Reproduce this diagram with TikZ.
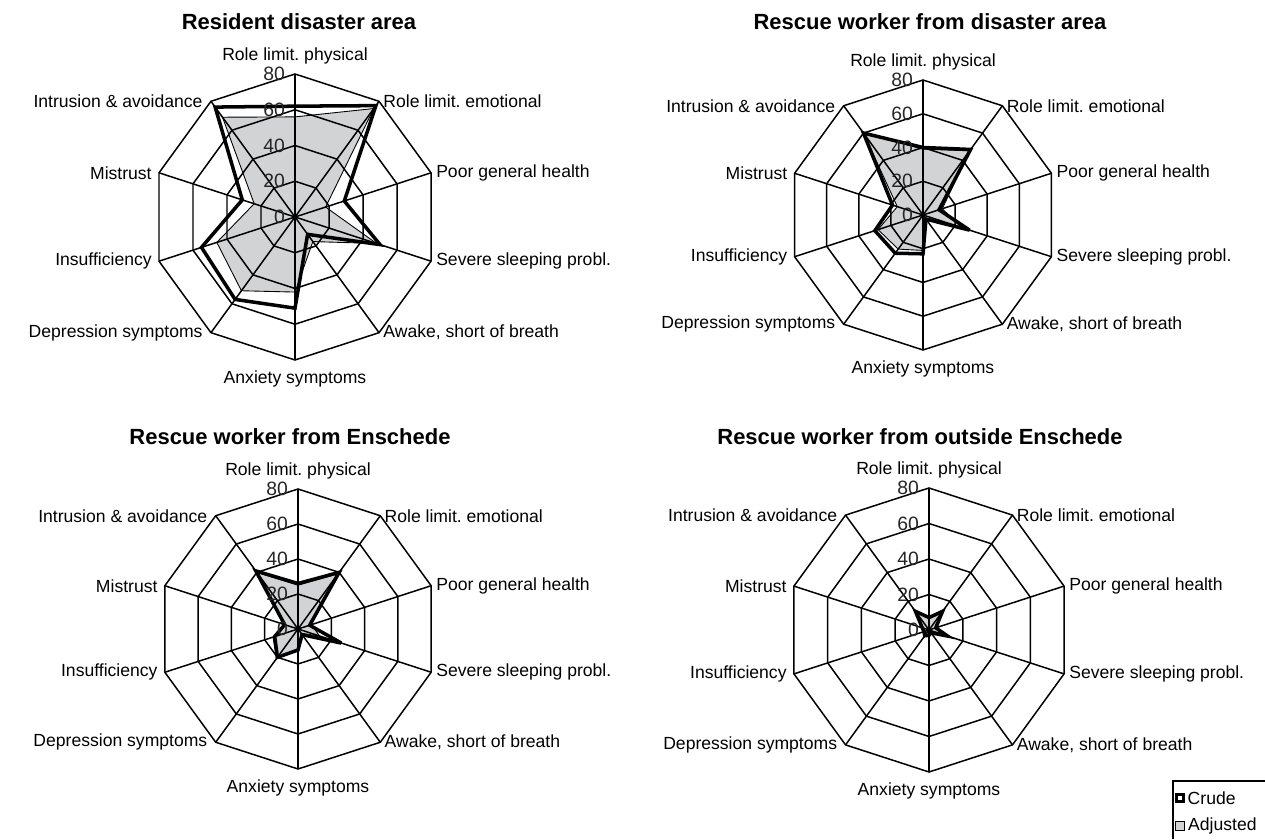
\documentclass[tikz,border=0pt]{standalone}
\usepackage{fontspec}
\setmainfont{Liberation Sans}
\usetikzlibrary{positioning}
\definecolor{adjgray}{RGB}{210,211,213}
\tikzstyle{grid line}=[draw, line width=0.85pt, line join=miter]
\tikzstyle{crude line}=[draw, line width=2pt, line join=miter, miter limit=5]
\tikzstyle{adjusted area}=[fill=adjgray]
\tikzstyle{adjusted line}=[draw, line width=0.5pt, line join=miter]
\tikzstyle{axis label}=[inner sep=0pt, font=\fontsize{10}{12}\selectfont]
\tikzstyle{scale label}=[inner sep=0pt, font=\fontsize{11}{13}\selectfont, text=black!85]
\tikzstyle{chart title}=[inner sep=0pt, font=\fontsize{12.5}{15}\selectfont\bfseries]
\tikzstyle{crude key}=[draw, line width=1.6pt, minimum size=3.8pt, inner sep=0pt]
\tikzstyle{adjusted key}=[draw, fill=adjgray, line width=0.7pt, minimum size=5.2pt, inner sep=0pt]

\begin{document}
\frenchspacing
\begin{tikzpicture}[x=0.02cm, y=0.02cm]
    \useasboundingbox (0,0) rectangle (1265,839);
    % Draw the four radar charts: centre, radius, title position, title, crude and adjusted values
    \foreach \cx/\cy/\rad/\tx/\ty/\ttl/\crude/\adj in {
        295/622/143/299/817/{Resident disaster area}/{62,77,29,50,12,51,57,55,31,76}/{56,75,18,48,17,42,51,46,24,69},
        923/624/135/930/817/{Rescue worker from disaster area}/{40,48,10,29,3,23,28,30,19,60}/{39,47,12,24,2,21,25,28,16,60},
        298/210/140/290/402/{Rescue worker from Enschede}/{26,40,7,26,4,12,20,14,8,41}/{25,39,8,13,3,12,21,15,8,40},
        929/209/142/920/402/{Rescue worker from outside Enschede}/{7,13,4,11,2,3,4,3,4,13}/{7,14,4,7,2,3,3,3,4,13}}
    {
        \begin{scope}[shift={(\cx,\cy)}]
            % First the points of both series
            \foreach \v [count=\i from 0] in \adj
                \coordinate (a\i) at ({90-36*\i}:{\v*\rad/80});
            \foreach \v [count=\i from 0] in \crude
                \coordinate (c\i) at ({90-36*\i}:{\v*\rad/80});
            \coordinate (mid) at (0,0);
            \path[adjusted area] (a0) \foreach \i in {1,...,9}{-- (a\i)} -- cycle;
            % Rings and spokes
            \foreach \lev in {20,40,60,80}
                \draw[grid line] (90:{\lev*\rad/80}) \foreach \k in {1,...,9}{-- ({90-36*\k}:{\lev*\rad/80})} -- cycle;
            \foreach \k in {0,...,9}
                \coordinate (tip\k) at ({90-36*\k}:\rad);
            \foreach \k in {0,...,9}
                \path[grid line] (mid) -- (tip\k);
            % Adjusted outline, then crude on top
            \path[adjusted line] (a0) \foreach \i in {1,...,9}{-- (a\i)} -- cycle;
            \path[crude line] (c0) \foreach \i in {1,...,9}{-- (c\i)} -- cycle;
            % Scale numbers
            \foreach \lev in {0,20,40,60,80}
                \node[scale label, anchor=east, xshift=-5.5pt] (num\lev) at (90:{\lev*\rad/80}) {\lev};
            % Axis names
            \foreach \k/\anc/\dx/\dy/\name in {0/south/0/5.5/{Role limit. physical}, 1/west/2.3/0/{Role limit. emotional},
                    2/west/2.8/0/{Poor general health}, 3/west/2.8/0/{Severe sleeping probl.},
                    4/west/2.3/0/{Awake, short of breath}, 5/north/0/-6/{Anxiety symptoms},
                    6/east/-4.6/0/{Depression symptoms}, 7/east/-4/0/{Insufficiency},
                    8/east/-4/0/{Mistrust}, 9/east/-4.6/0/{Intrusion \& avoidance}}
                \node[axis label, anchor=\anc, xshift=\dx pt, yshift=\dy pt] (name\k) at (tip\k) {\name};
        \end{scope}
        \node[chart title] (title) at (\tx,\ty) {\ttl};
    }
    % Legend
    \coordinate (boxtr) at (1265,58);
    \coordinate (boxtl) at (1173,58);
    \coordinate (boxbl) at (1173,0);
    \path[grid line, line width=0.6pt] (boxtr) -- (boxtl) -- (boxbl);
    \node[crude key] (crudekey) at (1180,41) {};
    \node[axis label, right=1.5pt of crudekey] (crudetext) {Crude};
    \node[adjusted key] (adjkey) at (1180,13) {};
    \node[axis label, right=1.5pt of adjkey] (adjtext) {Adjusted};
\end{tikzpicture}
\end{document}
